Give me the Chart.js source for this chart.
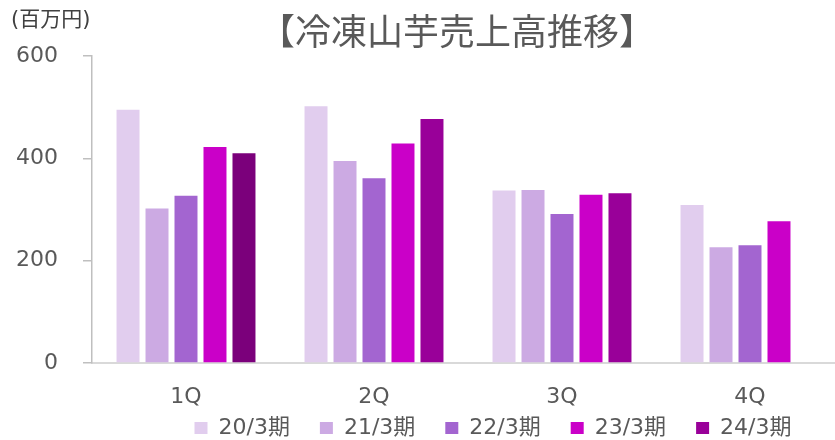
<!DOCTYPE html>
<html>
<head>
<meta charset="utf-8">
<script src="https://cdn.jsdelivr.net/npm/chart.js@4/dist/chart.umd.min.js"></script>
<style>
  html, body { margin: 0; padding: 0; overflow: hidden; background: #fff; }
</style>
</head>
<body>
<canvas id="salesChart" width="852" height="440"></canvas>
<script>
const quarters = ['1Q', '2Q', '3Q', '4Q'];
const periods = ['20/3期', '21/3期', '22/3期', '23/3期', '24/3期'];

// 百万円
const fy20 = [495, 502, 337, 309];
const fy21 = [302, 395, 338, 226];
const fy22 = [327, 361, 291, 230];
const fy23 = [422, 429, 329, 277];
const fy24 = [410, 477, 332, null];

const yTicks = [0, 200, 400, 600];

const colors = ['#E1CDEE', '#CCAAE3', '#A365D0', '#CA00C8', '#990099'];
const fy24BarColors = ['#7B007B', '#990099', '#990099', '#990099'];

const FONT = '"DejaVu Sans", "Noto Sans CJK JP", sans-serif';
const textGrey = '#595959';

const ctx1 = document.getElementById('salesChart');

// title, unit label and legend placement
const extras = {
    id: 'extras',
    afterLayout(chart){
        const lg = chart.legend;
        const dx = 71;
        const dy = 387 - lg.top;
        lg.left += dx;
        lg.right += dx;
        lg.top += dy;
        lg.bottom += dy;
    },
    afterDraw(chart){
        const c = chart.ctx;
        c.save();
        c.fillStyle = textGrey;
        c.textAlign = 'center';
        c.textBaseline = 'middle';
        c.font = '36px "Noto Sans CJK JP"';
        c.fillText('【冷凍山芋売上高推移】', 457, 31);
        c.fillStyle = '#404040';
        c.textAlign = 'left';
        c.font = '21px ' + FONT;
        c.fillText('(百万円)', 11, 21);
        c.restore();
    }
};

const allSeries = [fy20, fy21, fy22, fy23, fy24];

new Chart(ctx1, {
    type: 'bar',
    data: {
        labels: quarters,
        datasets: allSeries.map((vals, i) => ({
            label: periods[i],
            data: vals,
            backgroundColor: i === 4 ? fy24BarColors : colors[i],
            borderWidth: 0,
            categoryPercentage: 0.771,
            barPercentage: 0.793
        }))
    },
    options: {
        responsive: false,
        animation: false,
        layout: { padding: { top: 56, right: 8, left: 0, bottom: 0 } },
        plugins: {
            title: { display: false },
            tooltip: { enabled: false },
            legend: {
                position: 'bottom',
                maxHeight: 53,
                labels: {
                    boxWidth: 13,
                    boxHeight: 12,
                    padding: 30,
                    color: textGrey,
                    font: { family: FONT, size: 22 },
                    generateLabels: function(chart){
                        return periods.map((p, i) => ({
                            text: p,
                            fillStyle: colors[i],
                            strokeStyle: colors[i],
                            lineWidth: 0,
                            hidden: false,
                            datasetIndex: i,
                            fontColor: textGrey
                        }));
                    }
                }
            }
        },
        scales: {
            x: {
                grid: { display: false, drawTicks: false },
                border: { color: '#D9D9D9', width: 2 },
                ticks: { color: textGrey, font: { family: FONT, size: 22 }, mirror: true, padding: -47 },
                afterFit: function(scale){ scale.height = 24; }
            },
            y: {
                min: 0,
                max: 600,
                afterBuildTicks: function(scale){
                    scale.ticks = yTicks.map(v => ({ value: v }));
                },
                grid: { drawOnChartArea: false, drawTicks: true, tickLength: 9, color: '#BFBFBF', lineWidth: 1.5 },
                border: { color: '#BFBFBF', width: 1.5 },
                ticks: { color: textGrey, font: { family: FONT, size: 22 }, padding: 25 },
                afterFit: function(scale){ scale.width = 92; }
            }
        }
    },
    plugins: [extras]
});
</script>
</body>
</html>
